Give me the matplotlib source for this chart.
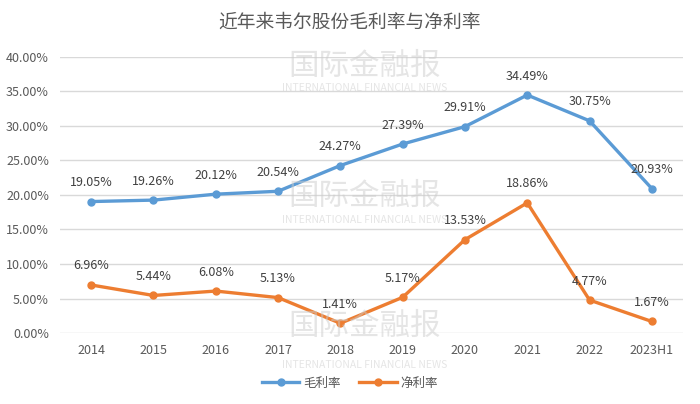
import matplotlib.pyplot as plt
from matplotlib.ticker import FuncFormatter

plt.rcParams['font.family'] = ['Noto Sans CJK SC', 'DejaVu Sans']

years = ["2014", "2015", "2016", "2017", "2018", "2019", "2020", "2021", "2022", "2023H1"]
gross = [19.05, 19.26, 20.12, 20.54, 24.27, 27.39, 29.91, 34.49, 30.75, 20.93]
net = [6.96, 5.44, 6.08, 5.13, 1.41, 5.17, 13.53, 18.86, 4.77, 1.67]

fig = plt.figure(figsize=(7, 4.04), dpi=100)
ax = fig.add_axes([60 / 700, 1 - 333 / 404, 623 / 700, 276 / 404])

x = list(range(len(years)))
ax.plot(x, gross, color="#5B9BD5", lw=2.4, marker="o", ms=5, label="毛利率", zorder=3)
ax.plot(x, net, color="#ED7D31", lw=2.4, marker="o", ms=5, label="净利率", zorder=3)

for xi, v in zip(x, gross):
    ax.annotate(f"{v:.2f}%", (xi, v), xytext=(0, 9), textcoords="offset points",
                ha="center", va="bottom", fontsize=9, color="#404040")
for xi, v in zip(x, net):
    ax.annotate(f"{v:.2f}%", (xi, v), xytext=(0, 9), textcoords="offset points",
                ha="center", va="bottom", fontsize=9, color="#404040")

ax.set_xlim(-0.5, len(years) - 0.5)
ax.set_ylim(0, 40)
ax.set_yticks(range(0, 41, 5))
ax.yaxis.set_major_formatter(FuncFormatter(lambda v, p: f"{v:.2f}%"))
ax.set_xticks(x)
ax.set_xticklabels(years)
ax.tick_params(length=0, labelsize=9, colors="#595959")
ax.tick_params(axis="y", pad=8)
ax.tick_params(axis="x", pad=8)
ax.grid(axis="y", color="#D9D9D9", lw=1)
ax.set_axisbelow(True)
for s in ax.spines.values():
    s.set_visible(False)

# watermarks
for yc, ye in [(66, 88), (196, 220), (326, 365)]:
    fig.text(365 / 700, 1 - yc / 404, "国际金融报", ha="center", va="center",
             fontsize=22, color="#CCCCCC", alpha=0.5, zorder=0)
    fig.text(365 / 700, 1 - ye / 404, "INTERNATIONAL FINANCIAL NEWS", ha="center",
             va="center", fontsize=7.5, color="#CCCCCC", alpha=0.5, zorder=0)

fig.text(0.5, 1 - 22 / 404, "近年来韦尔股份毛利率与净利率", ha="center", va="center",
         fontsize=13.5, color="#595959")

fig.legend(loc="center", bbox_to_anchor=(0.5, 1 - 383 / 404), ncol=2, frameon=False,
           fontsize=9, labelcolor="#595959", handlelength=3, columnspacing=1.5,
           handletextpad=0.3)

fig.savefig("out.png", dpi=100)
